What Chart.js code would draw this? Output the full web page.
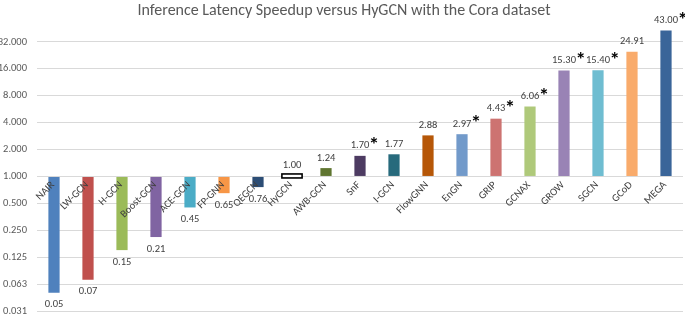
<!DOCTYPE html>
<html><head><meta charset="utf-8">
<script src="https://cdn.jsdelivr.net/npm/chart.js@4/dist/chart.umd.min.js"></script>
<style>html,body{margin:0;padding:0;background:#fff}#wrap{width:685px;height:315px}</style>
</head><body><div id="wrap"><canvas id="c" width="685" height="315"></canvas></div>
<script>
const chartTitle = "Inference Latency Speedup versus HyGCN with the Cora dataset";
const categories = ["NAIR","LW-GCN","H-GCN","Boost-GCN","ACE-GCN","FP-GNN","QEGCN","HyGCN","AWB-GCN","SnF","I-GCN","FlowGNN","EnGN","GRIP","GCNAX","GROW","SGCN","GCoD","MEGA"];
const speedups = [0.05,0.07,0.15,0.21,0.45,0.65,0.76,1.00,1.24,1.70,1.77,2.88,2.97,4.43,6.06,15.30,15.40,24.91,43.00];
const starred = [false,false,false,false,false,false,false,false,false,true,false,false,true,true,true,true,true,false,true];
const barColors = ["#4F81BD","#C0504D","#9BBB59","#8064A2","#4BACC6","#F79646","#2C4D75","#FFFFFF","#5F7530","#4D3B62","#276A7C","#B65708","#729ACA","#CD7371","#AFC97A","#9983B5","#6FBDD1","#F9AB6B","#3A6599"];
const tickValues = [0.03125,0.0625,0.125,0.25,0.5,1,2,4,8,16,32];
const tickLabels = ["0.031","0.063","0.125","0.250","0.500","1.000","2.000","4.000","8.000","16.000","32.000"];
const baseline = 1;
const axisMin = 0.03125, axisMax = 64;

const FONT = "Carlito, Calibri, 'Liberation Sans', sans-serif";

const labelPlugin = {
  id: 'labels',
  afterDatasetsDraw(chart) {
    const ctx = chart.ctx;
    const meta = chart.getDatasetMeta(0);
    const ys = chart.scales.y;
    const y1 = ys.getPixelForValue(baseline);
    meta.data.forEach((bar, i) => {
      const v = speedups[i];
      const cx = bar.x;
      ctx.save();
      if (v === baseline) {
        const w = bar.width * 1.8;
        ctx.fillStyle = '#fff';
        ctx.strokeStyle = '#000';
        ctx.lineWidth = 1.6;
        ctx.fillRect(cx - w/2, y1 - 2.5, w, 4);
        ctx.strokeRect(cx - w/2, y1 - 2.5, w, 4);
      }
      ctx.restore();
      // value label
      ctx.save();
      ctx.font = "10.5px " + FONT;
      ctx.fillStyle = '#404040';
      ctx.textAlign = 'center';
      ctx.textBaseline = 'middle';
      let ly;
      if (v > baseline) ly = bar.y - 10;
      else if (v < baseline) ly = bar.y + 12;
      else ly = y1 - 11;
      const txt = v.toFixed(2);
      ctx.fillText(txt, cx, ly);
      if (starred[i]) {
        const tw = ctx.measureText(txt).width;
        ctx.font = "bold 21px " + FONT;
        ctx.fillStyle = '#000';
        ctx.textAlign = 'left';
        ctx.fillText('*', cx + tw/2 - 0.5, ly);
      }
      ctx.restore();
      // category label
      ctx.save();
      ctx.font = "10.5px " + FONT;
      ctx.fillStyle = '#404040';
      ctx.translate(cx - 1, y1 + 7);
      ctx.rotate(-Math.PI / 4);
      ctx.textAlign = 'right';
      ctx.textBaseline = 'middle';
      ctx.fillText(categories[i], 0, 0);
      ctx.restore();
    });
    // title
    ctx.save();
    ctx.font = "16px " + FONT;
    ctx.fillStyle = '#595959';
    ctx.textAlign = 'center';
    ctx.textBaseline = 'middle';
    ctx.fillText(chartTitle, 344, 11);
    ctx.restore();
  }
};

new Chart(document.getElementById('c'), {
  type: 'bar',
  data: {
    labels: categories,
    datasets: [{
      data: speedups,
      base: baseline,
      backgroundColor: barColors,
      borderWidth: 0,
      barPercentage: 0.33,
      categoryPercentage: 1
    }]
  },
  options: {
    responsive: false,
    animation: false,
    devicePixelRatio: 1,
    layout: { padding: { top: 15, bottom: 4, right: 2, left: 0 } },
    plugins: { legend: { display: false }, title: { display: false }, tooltip: { enabled: false } },
    scales: {
      x: { type: 'category', display: false, offset: true, grid: { display: false } },
      y: {
        type: 'logarithmic',
        min: axisMin, max: axisMax,
        afterBuildTicks: (axis) => { axis.ticks = tickValues.map(v => ({ value: v })); },
        afterFit: (axis) => { axis.width = 37; axis.paddingTop = 0; axis.paddingBottom = 0; },
        border: { display: false },
        grid: { color: '#D9D9D9', drawTicks: false, lineWidth: 1 },
        ticks: {
          padding: 10,
          color: '#595959',
          font: { size: 10.5, family: FONT },
          autoSkip: false,
          callback: (v) => { const k = tickValues.indexOf(v); return k >= 0 ? tickLabels[k] : ''; }
        }
      }
    }
  },
  plugins: [labelPlugin]
});
</script></body></html>
